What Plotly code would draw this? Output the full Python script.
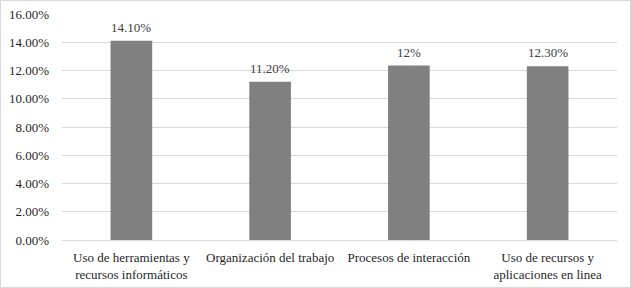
import plotly.graph_objects as go

categories = ["Uso de herramientas y<br>recursos informáticos", "Organización del trabajo",
              "Procesos de interacción", "Uso de recursos y<br>aplicaciones en linea"]
values = [14.1, 11.2, 12.35, 12.3]
value_labels = ["14.10%", "11.20%", "12%", "12.30%"]
tick_vals = [0, 2, 4, 6, 8, 10, 12, 14, 16]
tick_text = ["0.00%", "2.00%", "4.00%", "6.00%", "8.00%", "10.00%", "12.00%", "14.00%", "16.00%"]

FONT = "Liberation Serif, Times New Roman, serif"
TICK = "#1f1f1f"
LBL = "#404040"

fig = go.Figure(go.Bar(x=categories, y=values, marker=dict(color="#808080", line=dict(width=0)),
                       hoverinfo="skip"))

for c, v, t in zip(categories, values, value_labels):
    fig.add_annotation(x=c, y=v, text=t, showarrow=False, yanchor="bottom", yshift=4,
                       font=dict(family=FONT, size=13, color=LBL))

W, H = 631, 288
L, R, T, B = 62, 14, 14, 48
pw, ph = W - L - R, H - T - B
fig.add_shape(type="rect", xref="paper", yref="paper",
              x0=(0.5 - L) / pw, x1=(W - 0.5 - L) / pw,
              y0=-(B - 0.5) / ph, y1=1 + (T - 0.5) / ph,
              line=dict(color="#d9d9d9", width=1), layer="below")

fig.update_layout(
    width=W, height=H, margin=dict(l=L, r=R, t=T, b=B, autoexpand=False),
    paper_bgcolor="white", plot_bgcolor="white",
    bargap=0.7, showlegend=False,
    font=dict(family=FONT, size=13, color=TICK),
    xaxis=dict(showgrid=False, showline=False, tickfont=dict(family=FONT, size=13, color=TICK),
               ticks="", fixedrange=True, automargin=False, ticklabelstandoff=8),
    yaxis=dict(range=[0, 16], tickvals=tick_vals, ticktext=tick_text, showgrid=True,
               gridcolor="#d9d9d9", gridwidth=1, zeroline=True, zerolinecolor="#d9d9d9",
               zerolinewidth=1, showline=False, ticks="", ticklabelstandoff=12,
               tickfont=dict(family=FONT, size=13, color=TICK), fixedrange=True, automargin=False),
)

fig.write_html("out.html", config={"displayModeBar": False},
               post_script="document.body.style.margin='0';document.body.style.overflow='hidden';")
